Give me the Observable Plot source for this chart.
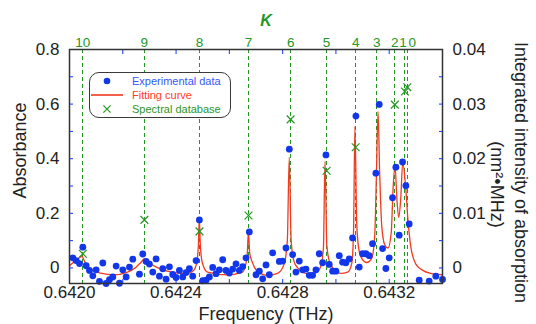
<!DOCTYPE html>
<html><head><meta charset="utf-8">
<script src="https://cdn.jsdelivr.net/npm/d3@7"></script>
<script src="https://cdn.jsdelivr.net/npm/@observablehq/plot@0.6"></script>
<style>
html,body{margin:0;padding:0;background:#fff;}
#wrap{position:relative;width:536px;height:324px;font-family:"Liberation Sans",Arial,sans-serif;}
#legend{position:absolute;left:89px;top:72px;width:142px;height:46px;box-sizing:border-box;border:1px solid #3a3a3a;border-radius:10px;background:#fff;}
.row{position:absolute;left:0;height:14px;display:flex;align-items:center;font-size:11px;white-space:nowrap;}
.row svg{width:40px;height:14px;flex:none;margin-right:2px;}
</style></head><body>
<div id="wrap"><div id="chart"></div><div id="legend"></div></div>
<script>
const blue = "#1236ea", red = "#f23a1f", green = "#249624";
const legendText = ["#3557ff", "#ff3a2a", "#2a962a"];

// Experimental data (THz, absorbance)
const expFreq = [0.6420125,0.6420250,0.6420375,0.6420500,0.6420625,0.6420750,0.6420875,0.6421000,0.6421125,0.6421250,
0.6421375,0.6421500,0.6421625,0.6421750,0.6421875,0.6422000,0.6422125,0.6422250,0.6422375,
0.6422625,0.6422750,0.6422875,0.6423000,0.6423125,0.6423250,0.6423375,0.6423500,0.6423625,0.6423750,
0.6423875,0.6424000,0.6424125,0.6424250,0.6424375,0.6424500,0.6424625,0.6424750,0.6424875,0.6425000,
0.6425125,0.6425250,0.6425375,0.6425500,0.6425625,0.6425750,0.6425875,0.6426000,0.6426125,0.6426250,
0.6426375,0.6426500,0.6426625,0.6426750,
0.6427000,0.6427125,0.6427250,0.6427375,0.6427500,0.6427625,
0.6427875,0.6428000,0.6428125,0.6428250,0.6428375,0.6428500,0.6428625,0.6428750,0.6428875,0.6429000,
0.6429125,0.6429250,0.6429375,0.6429500,0.6429625,0.6429750,0.6429875,0.6430000,0.6430125,0.6430250,
0.6430375,0.6430500,0.6430625,0.6430750,0.6430875,0.6431000,0.6431125,0.6431250,0.6431375,0.6431500,
0.6431625,0.6431750,0.6431875,0.6432000,0.6432125,0.6432250,0.6432375,0.6432500,0.6432625,0.6432750,
0.6433125,0.6433500,0.6433750,0.6434000];
const expAbs = [0.037,0.027,0.016,0.076,0.008,-0.009,-0.029,-0.007,-0.049,0.018,
-0.057,-0.043,-0.033,0.007,-0.056,-0.007,-0.033,0.003,0.032,
-0.023,0.051,0.024,0.014,-0.015,0.033,-0.030,-0.003,-0.041,0.004,
-0.024,-0.035,-0.009,-0.033,-0.017,-0.003,-0.030,0.027,0.176,-0.047,
-0.045,-0.033,0.002,-0.021,-0.007,0.030,-0.009,-0.019,-0.004,0.015,
-0.009,0.005,0.037,0.132,
-0.025,-0.012,-0.040,0.011,-0.025,0.055,
0.024,0.025,0.073,0.435,0.049,-0.015,0.025,-0.007,-0.004,-0.027,
-0.027,-0.007,0.052,0.019,0.414,0.013,-0.012,-0.012,0.045,0.021,
0.019,0.033,0.110,0.556,0.003,0.052,0.052,0.045,0.089,0.347,
0.599,0.071,-0.002,0.037,0.257,0.369,0.120,0.388,0.301,0.161,
-0.045,-0.048,-0.030,-0.042];

// Fitting curve (THz, absorbance)
const fitFreq = [0.6420011,0.6420236,0.6420386,0.6420462,0.6420574,0.6420687,0.6420874,0.6421174,0.6421662,0.6422176,
0.6422488,0.6422675,0.6422807,0.6422976,0.6423302,0.6423925,0.6424428,0.6424664,0.6424777,0.6424837,
0.6424871,0.6424912,0.6424983,0.6425178,0.6425929,0.6426492,0.6426615,0.6426675,0.6426717,0.6426762,
0.6426867,0.6427054,0.6427430,0.6427805,0.6428053,0.6428176,0.6428248,0.6428319,0.6428417,0.6428567,
0.6428931,0.6429242,0.6429430,0.6429531,0.6429591,0.6429659,0.6429767,0.6429992,0.6430180,0.6430443,
0.6430593,0.6430660,0.6430713,0.6430780,0.6430856,0.6430968,0.6431156,0.6431343,0.6431456,0.6431523,
0.6431580,0.6431640,0.6431719,0.6431831,0.6431955,0.6432075,0.6432150,0.6432218,0.6432293,0.6432356,
0.6432432,0.6432507,0.6432619,0.6432705,0.6432807,0.6432994,0.6433246,0.6433557,0.6433996];
const fitAbs = [0.009,0.027,0.038,0.043,0.022,0.005,-0.009,-0.019,-0.025,-0.015,
0.002,0.020,0.033,0.020,0.001,-0.017,-0.021,-0.009,0.020,0.082,
0.180,0.082,0.020,-0.015,-0.025,-0.015,0.013,0.056,0.136,0.056,
0.020,-0.013,-0.027,-0.020,0.013,0.100,0.405,0.100,0.027,0.000,
-0.021,-0.018,0.005,0.075,0.391,0.082,0.020,-0.011,-0.020,-0.015,
0.016,0.129,0.518,0.165,0.071,0.035,0.020,0.035,0.118,0.355,
0.573,0.355,0.155,0.085,0.073,0.129,0.300,0.373,0.245,0.185,
0.253,0.385,0.294,0.173,0.080,0.015,-0.008,-0.020,-0.025];

// K lines
const kLabels = ["10","9","8","7","6","5","4","3","2","1","0"];
const kFreq = [0.642050,0.642281,0.642488,0.642672,0.642830,0.642965,0.643074,0.643153,0.643221,0.643259,0.643268];

// Spectral database (THz, nm²·MHz)
const dbFreq = [0.642050,0.642281,0.642488,0.642672,0.642830,0.642965,0.643074,0.643221,0.643259,0.643268];
const dbIntensity = [0.0026,0.0088,0.0067,0.0096,0.0272,0.0178,0.0221,0.0299,0.0323,0.0331];

const xTickLabels = [0.6420,0.6424,0.6428,0.6432];
const xMinorTicks = [0.6422,0.6424,0.6426,0.6428,0.6430,0.6432];
const yTickLabels = [0,0.2,0.4,0.6,0.8];
const yMinorTicks = [0,0.1,0.2,0.3,0.4,0.5,0.6,0.7];
const rightTickLabels = [0,0.01,0.02,0.03,0.04];
const axisRatio = 0.8 / 0.04;

const legendLabels = ["Experimental data","Fitting curve","Spectral database"];

const exp = expFreq.map((f,i)=>({f, a: expAbs[i]}));
const fit = fitFreq.map((f,i)=>({f, a: fitAbs[i]}));
const db = dbFreq.map((f,i)=>({f, v: dbIntensity[i]}));
const lines = kFreq.map((f,i)=>({f, k: kLabels[i]}));

const font = "Liberation Sans, Arial, sans-serif";
const chart = Plot.plot({
  width: 536, height: 324,
  marginLeft: 69, marginRight: 94, marginTop: 49, marginBottom: 41,
  x: {domain: [0.6420, 0.6434]},
  y: {domain: [-0.057, 0.8]},
  style: {fontFamily: font, background: "#fff", color: "#222", overflow: "visible"},
  marks: [
    Plot.ruleX(lines, {x: "f", stroke: green, strokeWidth: 1, strokeDasharray: "4,3", shapeRendering: "crispEdges"}),
    Plot.line(fit, {x: "f", y: "a", curve: "monotone-x", stroke: red, strokeWidth: 1.3, clip: true}),
    Plot.dot(exp, {x: "f", y: "a", r: 3.4, fill: blue}),
    Plot.dot(db, {x: "f", y: d => d.v * axisRatio, symbol: "times", r: 3.6, stroke: green, strokeWidth: 1.2}),
    Plot.frame({stroke: "#333", strokeWidth: 1.5}),
    // bottom axis
    Plot.axisX({anchor: "bottom", ticks: xTickLabels, tickFormat: d3.format(".4f"), tickSize: 0, tickPadding: 2, fontSize: 17, label: null}),
    Plot.axisX({anchor: "bottom", ticks: xMinorTicks, tickSize: 4, dy: -4, fill: "none", stroke: blue, label: null}),
    Plot.axisX({anchor: "top", ticks: xMinorTicks, tickSize: 4, dy: 4, fill: "none", stroke: blue, label: null}),
    // left axis
    Plot.axisY({anchor: "left", ticks: yTickLabels, tickFormat: d => String(d), tickSize: 0, tickPadding: 10, fontSize: 17, label: null}),
    Plot.axisY({anchor: "left", ticks: yMinorTicks, tickSize: 4, dx: 4, fill: "none", stroke: blue, label: null}),
    // right axis
    Plot.axisY({anchor: "right", ticks: rightTickLabels.map(v => v * axisRatio), tickFormat: d => String(+(d / axisRatio).toFixed(2)), tickSize: 0, tickPadding: 10, fontSize: 17, label: null}),
    Plot.axisY({anchor: "right", ticks: yMinorTicks, tickSize: 4, dx: -4, fill: "none", stroke: blue, label: null}),
    // K labels on top
    Plot.text(lines.filter(d => d.k !== "1" && d.k !== "0"), {x: "f", text: "k", frameAnchor: "top", textAnchor: "middle", lineAnchor: "bottom", dy: -3, fill: green, fontSize: 13.5}),
    Plot.text(lines.filter(d => d.k === "1"), {x: "f", text: "k", frameAnchor: "top", textAnchor: "middle", lineAnchor: "bottom", dy: -3, dx: -2, fill: green, fontSize: 13.5}),
    Plot.text(lines.filter(d => d.k === "0"), {x: "f", text: "k", frameAnchor: "top", textAnchor: "middle", lineAnchor: "bottom", dy: -3, dx: 5, fill: green, fontSize: 13.5}),
    Plot.text(["K"], {frameAnchor: "top", textAnchor: "middle", lineAnchor: "middle", dx: 10, dy: -29, fill: green, fontSize: 16, fontWeight: "bold", fontStyle: "italic"}),
    // titles
    Plot.text(["Frequency (THz)"], {frameAnchor: "bottom", textAnchor: "middle", lineAnchor: "bottom", dx: 10, dy: 36, fontSize: 18, fill: "#222"}),
    Plot.text(["Absorbance"], {frameAnchor: "left", textAnchor: "middle", lineAnchor: "middle", rotate: -90, dx: -49, dy: -16, fontSize: 18, fill: "#222"}),
    Plot.text(["Integrated intensity of absorption"], {frameAnchor: "right", textAnchor: "middle", lineAnchor: "middle", rotate: 90, dx: 78, dy: 6, fontSize: 18, fill: "#222"}),
    Plot.text(["(nm²•MHz)"], {frameAnchor: "right", textAnchor: "middle", lineAnchor: "middle", rotate: 90, dx: 54, dy: 18, fontSize: 18, fill: "#222"})
  ]
});
document.getElementById("chart").appendChild(chart);

// Legend
const swatches = [
  `<svg viewBox="0 0 40 14"><circle cx="17" cy="7" r="3.3" fill="${blue}"/></svg>`,
  `<svg viewBox="0 0 40 14"><line x1="1" y1="7" x2="33" y2="7" stroke="${red}" stroke-width="1.6"/></svg>`,
  `<svg viewBox="0 0 40 14"><path d="M13.4,3.4L20.6,10.6M13.4,10.6L20.6,3.4" stroke="${green}" stroke-width="1.2" fill="none"/></svg>`
];
const rowTops = [1, 14.5, 28.5];
const legend = document.getElementById("legend");
legendLabels.forEach((label, i) => {
  const row = document.createElement("div");
  row.className = "row";
  row.style.top = rowTops[i] + "px";
  row.style.color = legendText[i];
  row.innerHTML = swatches[i] + `<span>${label}</span>`;
  legend.appendChild(row);
});
</script>
</body></html>
